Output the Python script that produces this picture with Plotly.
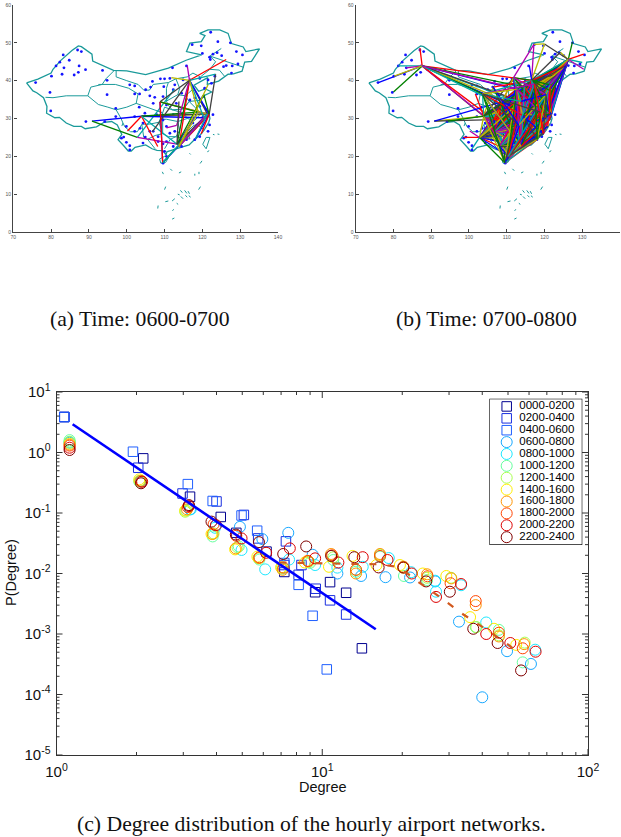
import plotly.graph_objects as go

W, H = 621, 837

# ---------- map data ----------
BORDER = [(73.5,39.4),(74.2,38.4),(75.2,37.3),(76.2,36.8),(78,35.5),(78.9,33.2),(78.8,31.4),(81,30.2),(82.2,30.3),(84,28.8),
 (86,27.9),(88,27.9),(89,27.3),(92,27.8),(94,29),(96,29.2),(97.5,28.3),(98.7,25.8),(97.7,24.4),(99.2,22.8),(100.4,21.4),(101.2,21.4),
 (102.2,22.4),(105,23),(106.7,22),(108,21.6),(109.5,21.5),(110.4,20.4),(110.6,21.2),(113,22),(114.2,22.4),(116.5,23),(118,24.5),(119.5,25.7),
 (120.5,27),(121.7,29),(122,30),(121.8,31),(120.9,32.6),(119.3,34.8),(120.3,36),(122.5,37),(120.8,37.8),(119,37.2),(117.8,38.8),(119.5,39.8),
 (121.4,40.8),(121.3,39),(124.3,39.9),(126.8,41.7),(128.2,41.8),(130.5,42.5),(131.2,44.9),(133,45.1),(135.1,48.4),(131.5,47.7),(130.8,48.9),(127.7,49.8),
 (126.8,52.5),(124.6,53.4),(121.5,53.4),(119.3,52.5),(120.7,51.9),(119.7,50.3),(116.7,49.9),(115.8,47.7),(119.8,46.8),(115.7,45.4),(112,43.7),
 (111,43.3),(105,41.6),(100,42.6),(96.5,42.7),(91,45.2),(90.8,47),(88,49),(87.2,49.2),(85.5,48),(82.5,45.3),(80.5,43),(80,42),(76.5,40.4),(73.5,39.4)]
PROVINCES = [
 [(78.5,35.6),(80.5,35.5),(84,36),(89.7,36),(90.5,38.3),(93.5,39),(94.5,40.5),(96.7,42.7)],
 [(89.7,36),(92.5,33.7),(95,33),(97.2,32.3),(98.5,30),(99,28.8),(98.7,28)],
 [(92.5,39),(97,39),(100.5,38),(103,36.5),(102.5,34),(100,33),(97.2,32.3)],
 [(97.2,42.7),(97.2,41),(100,40),(103,39),(104.5,37.5),(106,37.5),(107,39),(111,39.5),(113,40.5),(116,41),(117.5,42),(119.5,41),(122,43),(123.5,45),(122,46.5),(125,48.5)],
 [(110.5,34.6),(110.5,38),(111,39.5)],
 [(113,40.5),(114,38),(113.5,36.3),(110.5,34.6),(111,33.5),(112,32.3),(115,32.5),(116.5,34.5),(115.5,36),(113.5,36.3)],
 [(109.5,31.5),(110,33),(112,32.3),(115,31.5),(116,30),(113.5,29.2),(110.5,29.8),(109.5,29.8),(109.5,31.5)],
 [(102.5,34),(105.3,33),(107.5,32.2),(109.5,31.5),(108.5,29),(106,28.5),(104,28.5),(102.8,26.5),(101,26.5),(99.5,27.8),(99,28.8)],
 [(104,28.3),(104.5,25),(105.5,24.5),(107.5,25.5),(109.5,26),(108.5,29)],
 [(109.5,29.8),(109.5,26),(111,25.2),(113,25.2),(114,26.8),(113.5,29.2)],
 [(110,22),(111.5,24.5),(113,25.2),(115,24.7),(116.7,24.6),(116,26.5),(117.5,28),(118.5,28.5),(120.5,27)],
 [(116,30),(118,29.5),(119.5,31.2),(121,31.5)],
 [(115,32.5),(116.5,34.5),(118,33),(119,32),(119.5,31.2)],
 [(116.5,34.5),(119.3,34.8)],
 [(115.5,36),(117.8,38)],
 [(122,46.5),(125,45.5),(127,45),(131,43.5)],
 [(122,43),(124.5,42.8),(126,41)],
 [(105.5,24.5),(107.5,22)],
]
ISLANDS = [
 [(120.1,23.2),(121,25),(122,25),(121,22),(120.1,23.2)],
 [(108.7,19.3),(110,20),(111,19.6),(110.3,18.4),(109,18.2),(108.7,19.3)],
 [(109.4,15.9),(109.7,15.3)],[(111.5,16.7),(112,16.2)],[(113.8,15.6),(114.4,15.9)],[(118,15.4),(118,14.9)],[(119.1,15.9),(119.1,15.3)],
 [(116.6,20.8),(116.9,20.5)],[(119.4,18.1),(119.9,18.8)],[(121.3,21.2),(121.8,21.5)],[(122.8,25.8),(123.2,25.7)],[(124,25.9),(124.5,25.8)],
 [(110,11.2),(110.3,12)],[(114.2,11),(114.7,10.4)],[(115.3,11),(115.9,10.2)],[(116.2,10.8),(116.6,10.1)],[(119,11.2),(119.5,12)],
 [(108.2,6.2),(108.3,7)],[(110.2,8),(111,8.2)],[(112,8.2),(112.7,8.8)],[(114.3,9.4),(114.9,8.8)],[(115.5,9.7),(116,9.2)],[(116.4,9.6),(116.9,9.2)],
 [(113.2,7.6),(113.6,7.3)],[(112.1,5.6),(112.4,6)],[(112,3.4),(112.6,3.7)],[(113.5,10),(114,9.8)],
]
DOTS = [(122.2,52.8),(117.3,49.5),(119.7,49.2),(124.1,50.3),(127.4,50),(129,47.7),(130.6,46.8),(120,47.2),(122.8,47),(123.9,47.4),
 (125.1,46.6),(121.9,46.2),(122.1,45.6),(129.4,44.4),(127.9,43.9),(126.3,44),(125.6,43.7),(127.7,42),(123.3,41.2),(115.8,43.9),(112.1,43.4),
 (83.2,46.8),(87,48.1),(88,47.7),(82.3,44.9),(81.3,43.9),(84.8,45.4),(87.4,43.9),(83.4,43.4),(82.9,41.7),(80.1,41.2),(86.1,41.5),(87.2,42.2),
 (89.1,42.9),(93.6,42.7),(75.9,39.5),(94.8,40.1),(79.7,36.9),(94.8,36.3),(79.9,32),(97.1,32.7),(97.1,30.5),(89.2,29.2),(94.2,29.2),
 (99.9,27.9),(102.1,26.6),(98.6,24.8),(99.2,25.1),(99.9,23.7),(100.8,22.8),(100.8,21.7),(104.3,23.5),(103.5,27.4),(104.9,25.1),(107,26.6),(108.3,25.2),
 (102.1,38.6),(100.8,38.9),(102.1,36.5),(103.4,36.5),(103.3,33),(104.8,31.4),(107,34),(106.1,36),(105,37.6),(106.8,39.8),(106.3,38.3),(108.9,40.5),(110,40.5),
 (109.8,38.4),(107.4,35.6),(109.6,35.8),(111.4,40.6),(112.3,37.6),(112.7,38.9),(114.9,40.2),(114.5,36.7),(116.7,40.2),(119.3,40.6),(121.5,40.2),(120.6,38),
 (122.4,39.3),(118,35.4),(120.2,35.8),(116.7,34.9),(113.1,34),(119.3,33.2),(121,32.3),(120.2,30.5),(122.8,31),(121.9,28.3),(121.5,26.6),(117.5,28.8),
 (116.2,27),(119.3,25.2),(118,24.4),(115.8,24.4),(114.5,22.6),(112.3,22.6),(110.5,23.9),(111.4,26.1),(112.7,26.6),(109.6,29.6),(110.5,27.9),(112.3,31),
 (115.3,31),(107.9,31),(110.5,33.6),(109.6,23.3),(108.3,23.9),(110,21.3),(109.6,18.2),(110.5,20),(106.1,26.6),(104.3,28.8),(102.1,30.5)]
AP = dict(LXA=(90.8,29.3),LZY=(94.4,29.3),CTU=(103.9,30.6),KMG=(102.8,25),PVG=(121.8,31.1),SHA=(121.3,31.2),PEK=(116.6,40.1),HRB=(126.3,45.6),
 SHE=(123.5,41.7),CAN=(113.3,23.2),SZX=(113.8,22.6),HAK=(110.4,20),SYX=(109.5,18.3),XIY=(108.8,34.4),HGH=(120.4,30.2),NKG=(118.9,31.7),WUH=(114.2,30.8),
 DLC=(121.5,38.9),TAO=(120.4,36.3),CKG=(106.6,29.7),HET=(111.8,40.8),CSX=(113.2,28.2),XMN=(118.1,24.5),FOC=(119.7,26),WNZ=(120.9,27.9),TSN=(117.3,39.1),
 TYN=(112.6,37.7),SJW=(114.7,38.3),CGO=(113.8,34.5),KWE=(106.8,26.5),NNG=(108.2,22.6),KHN=(115.9,28.9),HFE=(117.3,31.8),TNA=(117.2,36.8),LHW=(103.6,36.5),
 INC=(106.4,38.3),CGQ=(125.7,44),NGB=(121.5,29.8),URC=(87.6,43.9),KHG=(76,39.5),HTN=(80,37),ALT=(87,48.6),KRY=(81.3,43.9),TCG=(83.4,43.4),AKU=(80.2,41.2),
 LJG=(100.2,26.7),BSD=(98.6,25),JHG=(100.8,22),HEK=(127.4,50.2),JMU=(130.4,47),MDG=(130,44.8),YNJ=(130.4,43),HLD=(117.2,49.6),NAY=(120,49.7),NDG=(124.2,47.5),
 XIL=(116,44),XNN=(101.7,36.5),ZHA=(110.4,21.2),GYS=(105.8,32.4),ZHJ=(110.5,27.5),TXN=(118.2,29.7),LYG=(119.2,34.6),YNT=(121.4,37.4))

ROUTES_A = dict(
 LXA="CTU KMG", LJG="CTU", KMG="TYN CAN", CTU="PVG SHA HGH NKG NNG CAN",
 XIY="PVG SHA PEK SYX NKG", PEK="HRB SHE XIL HET SHA PVG CAN SZX HGH CSX NKG KWE",
 SYX="PVG HGH XIY SHA", CAN="SHA PVG HGH NKG TAO", SZX="PVG SHA HGH NKG",
 PVG="SHE XMN TAO FOC", SHA="XMN", ZHJ="CSX", DLC="SZX", CGO="CAN")

EAST = "PEK PVG SHA CAN SZX HGH NKG WUH CSX XMN FOC WNZ TSN TYN SJW CGO KHN HFE TNA TAO DLC SHE HRB CGQ NGB HAK SYX"
ROUTES_B = dict(
 URC="KHG HTN ALT KRY TCG AKU CTU XIY LHW PEK PVG CAN HGH CGO TYN SJW CKG WUH TNA",
 LXA="CTU CKG XIY", LZY="CTU",
 KMG="BSD JHG LJG CTU CKG XIY KWE NNG " + EAST, CTU="XNN LHW GYS INC HET KWE NNG ZHA ZHJ TXN LYG YNT " + EAST,
 CKG=EAST + " XIY KWE NNG LHW HET", XIY=EAST + " KWE NNG INC HET ZHA TXN",
 KWE=EAST, NNG="PEK PVG SHA HGH NKG WUH CSX XMN FOC TSN TAO CGO CAN SZX HAK",
 HRB="HEK JMU MDG YNJ NDG NAY XIY CTU CKG WUH CSX CGO TYN TSN SJW TNA HFE KHN FOC XMN NKG TAO DLC PEK PVG SHA HGH NGB CAN SZX SYX HAK KMG",
 SHE="PEK PVG SHA CAN SZX HGH NKG WUH CSX XMN FOC TAO TNA TSN CGO YNT SYX",
 CGQ="PEK PVG SHA CAN SZX HGH NKG TAO DLC WUH CGO TSN YNT",
 DLC="PEK PVG SHA CAN SZX HGH NKG WUH CSX XMN FOC TAO TNA CGO NGB WNZ SYX",
 PEK="HLD NAY NDG XIL HET INC LHW CAN SZX HGH NKG WUH CSX XMN FOC WNZ PVG SHA HFE KHN NGB SYX HAK TAO ZHA YNT ZHJ TXN",
 HET="HLD PVG SHA CAN HGH WUH CGO TAO", HLD="NAY",
 PVG="CAN SZX XMN FOC WUH CSX TAO TSN TYN SJW CGO KHN SYX HAK ZHA TNA", SHA="CAN SZX XMN FOC WUH CSX TAO TSN TYN SJW CGO KHN SYX HAK ZHJ YNT",
 HGH="CAN SZX XMN WUH CSX TAO TSN TYN CGO SYX HAK ZHA TNA SJW",
 CAN="NKG WUH CSX XMN FOC WNZ TSN TYN SJW CGO KHN HFE TNA TAO NGB HAK SYX ZHJ LHW INC",
 SZX="NKG WUH CSX XMN FOC WNZ TSN TYN SJW CGO KHN HFE TNA TAO NGB HAK SYX LHW",
 SYX="NKG WUH CSX XMN FOC TSN TYN CGO TAO LHW", HAK="NKG WUH CSX XMN FOC TSN TYN CGO TAO",
 WUH="TSN TYN XMN FOC TAO LHW", CSX="TSN TYN TAO LHW INC", NKG="XMN FOC TSN TYN", TAO="XMN FOC CGO", TSN="XMN FOC", LHW="CGO TSN TYN NKG")

MAP_PALETTE = ["#0000ff", "#008000", "#ff0000", "#00a8a8", "#b000b0", "#b8b800", "#404040"]

# ---------- degree distribution data ----------
SERIES = ["0000-0200","0200-0400","0400-0600","0600-0800","0800-1000","1000-1200","1200-1400","1400-1600","1600-1800","1800-2000","2000-2200","2200-2400"]
COLORS = ["#000090","#1a2fe0","#1f5fff","#18a8ff","#1ce8ff","#66ff9e","#a8ff50","#ffee00","#ff9500","#ff4400","#dd0000","#800000"]
DEG = [
 [1.07,2.12,3.18,4.15,4.75,6.17,7.2,9.4,10.7,12.3,14.1],
 [1.07,2.03,2.98,4.0,5.07,5.74,7.3,7.2,8.15,8.35,9.45,10.7,12.3],
 [1.07,1.94,3.12,3.87,4.97,5.69,7.2,8.15,9.2,10.4],
 [1.12,2.08,3.18,3.98,4.9,5.95,7.45,9.2,11.4,14,17.3,21.4,26.6,32.7,40,49.6,61],
 [1.12,2.08,3.2,3.95,4.97,6.1,7.5,9.4,11.4,14.2,17.8,21.6,26.6,26.8,33.3,41.4,63.3],
 [1.12,2.05,3.08,3.87,4.85,5.8,7.1,9.0,11,13.4,16.5,20.3,24.8,37.8,46.2,56.8],
 [1.12,2.05,3.05,3.9,4.8,5.75,7.05,8.9,11,13.4,16.5,20.2,24.8,30.5,38,46.2,57.8],
 [1.12,2.05,3.05,3.83,4.7,5.7,7.0,8.6,10.6,13,16,19.6,23.9,29.3,36,44.3,53.7],
 [1.12,2.07,3.1,3.87,4.73,5.79,7.1,8.8,10.8,13.4,16.5,20.2,24.8,30.6,37.8,46.2,57.5],
 [1.12,2.09,3.12,3.9,4.75,5.8,7.15,8.85,10.9,13.4,16.5,20.2,24.9,30.4,37.8,46.2,56.8],
 [1.12,2.1,3.15,3.98,4.97,6.15,7.55,9.4,11.5,14.2,17.6,21.7,26.8,33.3,41.4,51,63.5],
 [1.12,2.08,3.15,3.83,4.73,5.78,7.13,8.7,10.8,13.2,16.3,20.2,24.6,30.2,37,45.7,56],
]
PROB = [
 [3.86,.80,.186,.086,.047,.023,.0106,.0049,.0072,.0048,.00058],
 [3.86,.56,.21,.155,.093,.038,.034,.0138,.0095,.0138,.0056,.0036,.0021],
 [3.86,1.03,.30,.158,.091,.051,.0149,.0065,.0020,.00026],
 [1.45,.33,.115,.062,.059,.037,.047,.0204,.0100,.0091,.0087,.0086,.0074,.0016,.00009,.00052,.00032],
 [1.5,.34,.115,.057,.0245,.0117,.017,.0138,.0125,.0129,.018,.0105,.0076,.005,.0064,.00155,.00055],
 [1.6,.33,.11,.041,.028,.017,.012,.015,.0167,.0107,.019,.0091,.0078,.0013,.00117,.00034],
 [1.5,.34,.105,.046,.027,.018,.0125,.0155,.0185,.0115,.0205,.0125,.0085,.0085,.0013,.00095,.00072],
 [1.4,.36,.11,.045,.025,.019,.0126,.0152,.0129,.0195,.0138,.0138,.01,.0091,.0019,.00122,.00066],
 [1.35,.34,.115,.045,.026,.018,.0115,.0162,.021,.0100,.021,.013,.0097,.0083,.003,.00091,.00068],
 [1.3,.33,.125,.065,.042,.0185,.0125,.016,.02,.0115,.0195,.0125,.009,.0069,.0035,.00105,.00058],
 [1.2,.33,.13,.063,.038,.022,.026,.0178,.0152,.0186,.0167,.01,.0041,.0067,.001,.00071,.00051],
 [1.1,.31,.135,.072,.044,.033,.021,.028,.0195,.0186,.0126,.0126,.0074,.005,.00122,.00071,.00025],
]
FIT_BLUE_X = [1.15, 15.9]
FIT_BLUE_Y = [2.93, .0012]
FIT_ORANGE_X = [6.9,12,16.2,18.7,20.8,22.3,25.4,29.3,32.9,37.4,43.3,49.2,55.3]
FIT_ORANGE_Y = [.0152,.0145,.0142,.0131,.0102,.0079,.0054,.0034,.0023,.0016,.00102,.00071,.00047]
X_TICKS = [1, 10, 100]
X_LABELS = ["10<sup>0</sup>", "10<sup>1</sup>", "10<sup>2</sup>"]
Y_TICKS = [1e-5, 1e-4, 1e-3, 1e-2, 1e-1, 1, 10]
Y_LABELS = ["10<sup>-5</sup>","10<sup>-4</sup>","10<sup>-3</sup>","10<sup>-2</sup>","10<sup>-1</sup>","10<sup>0</sup>","10<sup>1</sup>"]
X_MINOR = [m * d for d in (1, 10) for m in range(2, 10)]
Y_MINOR = [m * d for d in (1e-5, 1e-4, 1e-3, 1e-2, 1e-1, 1) for m in range(2, 10)]

def fx(p): return p / W
def fy(p): return 1 - p / H
def unzip(segs):
    xs, ys = [], []
    for s in segs:
        xs += [q[0] for q in s] + [None]
        ys += [q[1] for q in s] + [None]
    return xs, ys

fig = go.Figure()
TEAL = "#1a9a9a"

def add_map(routes, xa, ya):
    for segs, w in ((PROVINCES, 1.0), ([BORDER], 1.3), (ISLANDS, 1.0)):
        xs, ys = unzip(segs)
        fig.add_trace(go.Scatter(x=xs, y=ys, mode="lines", xaxis=xa, yaxis=ya, line=dict(color=TEAL, width=w), hoverinfo="skip"))
    fig.add_trace(go.Scatter(x=[d[0] for d in DOTS], y=[d[1] for d in DOTS], mode="markers", xaxis=xa, yaxis=ya,
                             marker=dict(color="#1414ff", size=2.8), hoverinfo="skip"))
    i = 0
    for hub, dests in routes.items():
        for d in dests.split():
            if d == hub:
                continue
            fig.add_trace(go.Scatter(x=[AP[hub][0], AP[d][0]], y=[AP[hub][1], AP[d][1]], mode="lines", xaxis=xa, yaxis=ya,
                                     line=dict(color=MAP_PALETTE[i % 7], width=1.3), hoverinfo="skip"))
            i += 1

add_map(ROUTES_A, "x2", "y2")
add_map(ROUTES_B, "x3", "y3")

# main chart
for i, name in enumerate(SERIES):
    sym = "square-open" if i < 3 else "circle-open"
    size = 9.5 if i < 3 else 11
    fig.add_trace(go.Scatter(x=DEG[i], y=PROB[i], mode="markers", name=name, xaxis="x", yaxis="y",
                             marker=dict(symbol=sym, size=size, color=COLORS[i], line=dict(width=1, color=COLORS[i]))))
    # compact legend row
    fig.add_trace(go.Scatter(x=[0.182], y=[i], mode="markers", xaxis="x4", yaxis="y4", hoverinfo="skip",
                             marker=dict(symbol=sym, size=size, color=COLORS[i], line=dict(width=1, color=COLORS[i]))))
    fig.add_trace(go.Scatter(x=[0.32], y=[i], mode="text", text=[name], textposition="middle right", xaxis="x4", yaxis="y4", hoverinfo="skip",
                             textfont=dict(family="Liberation Sans", size=11.5, color="#000")))
fig.add_trace(go.Scatter(x=FIT_BLUE_X, y=FIT_BLUE_Y, mode="lines", line=dict(color="#0000ff", width=2.6), xaxis="x", yaxis="y", hoverinfo="skip"))
fig.add_trace(go.Scatter(x=FIT_ORANGE_X, y=FIT_ORANGE_Y, mode="lines", line=dict(color="#d2591e", width=2.2, dash="7px,11px"), xaxis="x", yaxis="y", hoverinfo="skip"))

AX = "#333333"
MAJOR_LEN, MINOR_LEN = 6, 3
PLOT_W, PLOT_H = 588 - 56.5, 755 - 392
tick_shapes = []
for vals, ln in ((X_TICKS, MAJOR_LEN), (X_MINOR, MINOR_LEN)):
    for v in vals:
        f = ln / PLOT_H
        for a, b in ((0, f), (1 - f, 1)):
            tick_shapes.append(dict(type="line", xref="x", yref="y domain", x0=v, x1=v, y0=a, y1=b, line=dict(color=AX, width=1)))
for vals, ln in ((Y_TICKS, MAJOR_LEN), (Y_MINOR, MINOR_LEN)):
    for v in vals:
        f = ln / PLOT_W
        for a, b in ((0, f), (1 - f, 1)):
            tick_shapes.append(dict(type="line", xref="x domain", yref="y", x0=a, x1=b, y0=v, y1=v, line=dict(color=AX, width=1)))

map_axis = dict(showgrid=False, zeroline=False, showline=True, linecolor="#444444", linewidth=1.4, ticks="inside", ticklen=3, automargin=False,
                tickcolor="#444444", tickwidth=1, tickfont=dict(family="Liberation Sans", size=5, color="#555555"))
def xmap(x0, x1, anchor):
    return dict(map_axis, domain=[fx(x0), fx(x1)], range=[70, 140], dtick=10, tick0=70, anchor=anchor)
def ymap(anchor):
    return dict(map_axis, domain=[fy(232), fy(5)], range=[0, 60], dtick=10, tick0=0, anchor=anchor)

main_axis = dict(showgrid=False, zeroline=False, showline=True, mirror=True, linecolor=AX, linewidth=1, ticks="", automargin=False,
                 tickfont=dict(family="Liberation Sans", size=15, color="#111"))

serif = dict(family="Liberation Serif", size=21.7, color="#111")
sans = dict(family="Liberation Sans", size=14.5, color="#111")
def label(text, px, py, font, **kw):
    return dict(text=text, x=fx(px), y=fy(py), xref="paper", yref="paper", xanchor="center", yanchor="middle", showarrow=False, font=font, **kw)

fig.update_layout(
    width=W, height=H, margin=dict(l=0, r=0, t=0, b=0), paper_bgcolor="white", plot_bgcolor="white", showlegend=False,
    xaxis=dict(main_axis, type="log", range=[0, 2], domain=[fx(56.5), fx(588)], anchor="y", tickmode="array", tickvals=X_TICKS, ticktext=X_LABELS, ticklabelstandoff=3),
    yaxis=dict(main_axis, type="log", range=[-5, 1], domain=[fy(755), fy(392)], anchor="x", tickmode="array", tickvals=Y_TICKS, ticktext=Y_LABELS, ticklabelstandoff=2),
    xaxis2=xmap(13.3, 278, "y2"), yaxis2=ymap("x2"),
    xaxis3=xmap(355.7, 620, "y3"), yaxis3=ymap("x3"),
    xaxis4=dict(domain=[fx(490), fx(581.7)], range=[0, 1], visible=False, anchor="y4"),
    yaxis4=dict(domain=[fy(544.3), fy(399.3)], range=[11.6, -0.6], visible=False, anchor="x4"),
    shapes=[dict(type="rect", xref="paper", yref="paper", x0=fx(490), x1=fx(581.7), y0=fy(544.3), y1=fy(399.3),
                 line=dict(color="#000", width=1.2), fillcolor="white", layer="below")] + tick_shapes,
    annotations=[
        label("Degree", 323, 787, sans),
        label("P(Degree)", 11, 573, sans, textangle=-90),
        label("(a) Time: 0600-0700", 139.5, 319, serif),
        label("(b) Time: 0700-0800", 486, 319, serif),
        label("(c) Degree distribution of the hourly airport networks.", 311, 824, serif),
    ],
)
fig.write_html("out.html", config=dict(displayModeBar=False),
               post_script="document.body.style.margin='0';document.documentElement.style.overflow='hidden';")
